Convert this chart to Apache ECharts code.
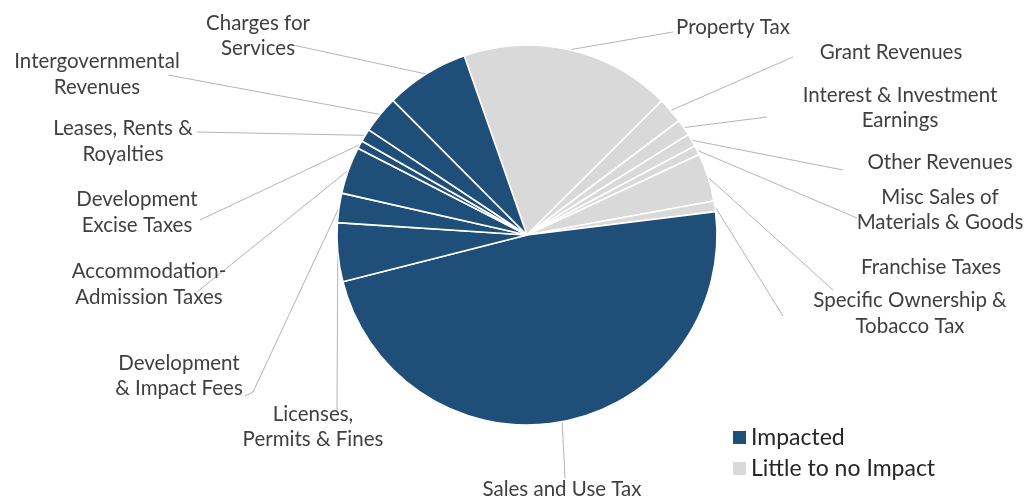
<!DOCTYPE html>
<html>
<head>
<meta charset="utf-8">
<title>Revenue Sources by Impact</title>
<script src="https://cdn.jsdelivr.net/npm/echarts@6/dist/echarts.min.js"></script>
<style>
  html, body { margin: 0; padding: 0; background: #ffffff; }
  #chart { width: 1029px; height: 500px; }
</style>
</head>
<body>
<div id="chart"></div>
<script>
// Revenue sources, clockwise from the top of the pie
const categories = [
  'Property Tax',
  'Grant Revenues',
  'Interest & Investment Earnings',
  'Other Revenues',
  'Misc Sales of Materials & Goods',
  'Franchise Taxes',
  'Specific Ownership & Tobacco Tax',
  'Sales and Use Tax',
  'Licenses, Permits & Fines',
  'Development & Impact Fees',
  'Accommodation-Admission Taxes',
  'Development Excise Taxes',
  'Leases, Rents & Royalties',
  'Intergovernmental Revenues',
  'Charges for Services'
];

// Share of total revenue (%)
const shares = [17.9, 2.2, 1.4, 1.1, 0.8, 4.1, 0.9, 48.0, 5.0, 2.5, 4.0, 0.7, 1.1, 3.2, 7.1];

// Impact group of each source
const impactGroups = ['Impacted', 'Little to no Impact'];
const impactOf = [1, 1, 1, 1, 1, 1, 1, 0, 0, 0, 0, 0, 0, 0, 0];

// Label text as wrapped on the chart
const labelText = [
  'Property Tax',
  'Grant Revenues',
  'Interest & Investment\nEarnings',
  'Other Revenues',
  'Misc Sales of\nMaterials & Goods',
  'Franchise Taxes',
  'Specific Ownership &\nTobacco Tax',
  'Sales and Use Tax',
  'Licenses,\nPermits & Fines',
  'Development\n& Impact Fees',
  'Accommodation-\nAdmission Taxes',
  'Development\nExcise Taxes',
  'Leases, Rents &\nRoyalties',
  'Intergovernmental\nRevenues',
  'Charges for\nServices'
];

const groupColors = ['#1f4e79', '#d9d9d9'];

// Label placement: text centre, leader end point, optional bend
const labelSpots = [
  { x: 733, y: 27,    end: [673, 32] },
  { x: 891, y: 52,    end: [793, 57] },
  { x: 900, y: 108,   end: [767, 117] },
  { x: 940, y: 162,   end: [843, 170] },
  { x: 940, y: 210,   end: [857, 218] },
  { x: 931, y: 267,   end: [833, 290] },
  { x: 910, y: 313.5, end: [783, 316] },
  { x: 562, y: 489,   end: [565, 478] },
  { x: 313, y: 427,   end: [337, 410] },
  { x: 179, y: 376,   bend: [253, 392], end: [245, 396] },
  { x: 149, y: 284.5, end: [197, 292] },
  { x: 137, y: 212.5, end: [200, 220] },
  { x: 123, y: 141.5, end: [197, 132] },
  { x: 97,  y: 74.5,  end: [168, 75] },
  { x: 258, y: 36,    end: [293, 45] }
];

const pieData = categories.map((name, i) => ({
  name: name,
  value: shares[i],
  itemStyle: { color: groupColors[impactOf[i]] },
  label: { formatter: labelText[i] }
}));

const chart = echarts.init(document.getElementById('chart'), null, { renderer: 'canvas' });

chart.setOption({
  animation: false,
  backgroundColor: '#ffffff',
  legend: {
    data: impactGroups,
    orient: 'vertical',
    left: 728,
    top: 421,
    icon: 'rect',
    itemWidth: 13,
    itemHeight: 13,
    itemGap: 8,
    selectedMode: false,
    textStyle: { fontFamily: 'Lato', fontSize: 23, color: '#262626', lineHeight: 22 }
  },
  // hidden cartesian system carrying the legend entries
  grid: { show: false, left: 0, top: 0, width: 1, height: 1 },
  xAxis: { show: false, type: 'category', data: [] },
  yAxis: { show: false, type: 'value' },
  series: [
    {
      type: 'pie',
      center: [527, 235],
      radius: 190,
      startAngle: 109.3,
      clockwise: true,
      avoidLabelOverlap: false,
      emphasis: { disabled: true },
      itemStyle: { borderColor: '#ffffff', borderWidth: 1.6 },
      label: {
        show: true,
        position: 'outside',
        fontFamily: 'Lato',
        fontSize: 20.5,
        lineHeight: 25.5,
        color: '#404040'
      },
      labelLine: {
        show: true,
        length: 10,
        length2: 10,
        lineStyle: { color: '#b4b4b4', width: 1 }
      },
      labelLayout: function (params) {
        const spot = labelSpots[params.dataIndex];
        const start = params.labelLinePoints ? params.labelLinePoints[0] : spot.end;
        return {
          x: spot.x,
          y: spot.y,
          align: 'center',
          verticalAlign: 'middle',
          labelLinePoints: [start, spot.bend || spot.end, spot.end]
        };
      },
      data: pieData
    },
    { type: 'bar', name: impactGroups[0], data: [], itemStyle: { color: groupColors[0] } },
    { type: 'bar', name: impactGroups[1], data: [], itemStyle: { color: groupColors[1] } }
  ]
});
</script>
</body>
</html>
